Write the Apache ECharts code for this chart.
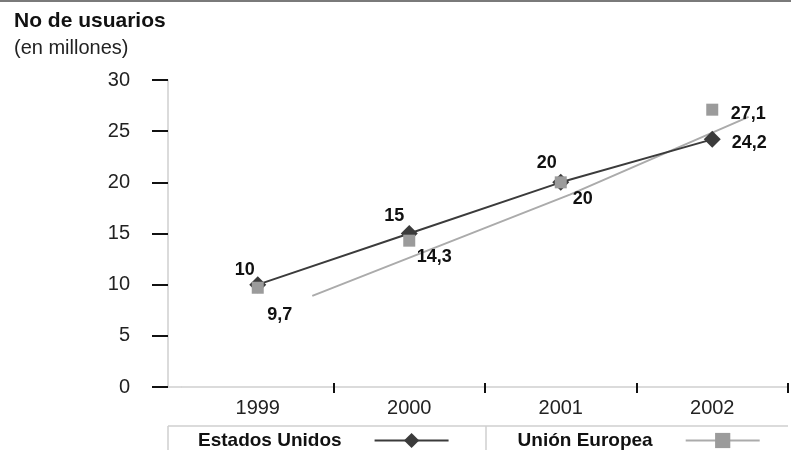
<!DOCTYPE html>
<html>
<head>
<meta charset="utf-8">
<script src="https://cdn.jsdelivr.net/npm/echarts@6/dist/echarts.min.js"></script>
<style>
  html, body { margin: 0; padding: 0; background: #fff; }
  #chart { width: 791px; height: 450px; }
</style>
</head>
<body>
<div id="chart"></div>
<script>
// Internet users, in millions
const years = ['1999', '2000', '2001', '2002'];
const usaValues = [10, 15, 20, 24.2];
const euValues = [9.7, 14.3, 20, 27.1];
const euLabels = ['9,7', '14,3', '20', '27,1'];
const usaLabels = ['10', '15', '20', '24,2'];
// Gray EU line, as [category position, value] pairs
const euLinePoints = [[0.36, 8.9], [2.06, 18.8], [3.24, 26.4]];
const yTicks = [0, 5, 10, 15, 20, 25, 30];

// Label offsets from each marker (px)
const usaLabelOffsets = [[-13, -15], [-15, -17], [-14, -19], [37, 4]];
const euLabelOffsets = [[22, 27], [25, 16], [22, 17], [36, 4]];

const FONT = 'Liberation Sans, Arial, Helvetica, sans-serif';
const DARK = '#3b3b3b';
const GRAY = '#9b9b9b';
const LINE_GRAY = '#ababab';

const chart = echarts.init(document.getElementById('chart'), null, { renderer: 'canvas' });

function labelled(values, texts, offsets) {
  return values.map((v, i) => ({
    value: v,
    label: { offset: offsets[i], formatter: texts[i] }
  }));
}

const dataLabel = {
  show: true,
  position: 'inside',
  color: '#111',
  fontFamily: FONT,
  fontSize: 18,
  fontWeight: 'bold',
  align: 'center',
  verticalAlign: 'middle'
};

chart.setOption({
  animation: false,
  textStyle: { fontFamily: FONT },
  title: {
    text: 'No de usuarios',
    subtext: '(en millones)',
    left: 14,
    top: 11,
    itemGap: 6,
    padding: 0,
    textStyle: { fontFamily: FONT, fontSize: 21, fontWeight: 'bold', color: '#111' },
    subtextStyle: { fontFamily: FONT, fontSize: 20, color: '#222' }
  },
  grid: { left: 182, right: 3, top: 80, bottom: 63 },
  xAxis: [
    {
      type: 'category',
      data: years,
      boundaryGap: true,
      axisLine: { onZero: false, lineStyle: { color: '#cfcfcf', width: 1.5 } },
      axisTick: { show: true, length: 6, interval: (i) => i > 0, lineStyle: { color: '#111', width: 2 } },
      axisLabel: { color: '#222', fontSize: 20, fontFamily: FONT, margin: 11 }
    },
    {
      type: 'value',
      min: -0.5,
      max: 3.5,
      show: false
    },
    {
      type: 'category',
      data: years,
      boundaryGap: true,
      position: 'bottom',
      axisLine: { show: false, onZero: false },
      axisTick: { show: true, inside: true, length: 4, interval: (i) => i > 0, lineStyle: { color: '#111', width: 2 } },
      axisLabel: { show: false }
    }
  ],
  yAxis: {
    type: 'value',
    min: yTicks[0],
    max: yTicks[yTicks.length - 1],
    interval: 5,
    offset: 14,
    position: 'left',
    splitLine: { show: false },
    axisLine: { show: true, onZero: false, lineStyle: { color: '#cfcfcf', width: 1.5 } },
    axisTick: { show: true, length: 16, lineStyle: { color: '#111', width: 2 } },
    axisLabel: { color: '#222', fontSize: 20, fontFamily: FONT, margin: 38 }
  },
  legend: {
    left: 198,
    top: 431,
    align: 'right',
    itemWidth: 74,
    itemHeight: 19,
    itemGap: 68,
    padding: 0,
    selectedMode: false,
    textStyle: { fontFamily: FONT, fontSize: 19, fontWeight: 'bold', color: '#111', padding: [0, 28, 0, 0] },
    data: [
      { name: 'Estados Unidos' },
      { name: 'Unión Europea', lineStyle: { color: LINE_GRAY, width: 2, opacity: 1 } }
    ]
  },
  series: [
    {
      name: 'tendencia UE',
      type: 'line',
      xAxisIndex: 1,
      data: euLinePoints,
      symbol: 'none',
      silent: true,
      lineStyle: { color: LINE_GRAY, width: 2 },
      z: 1
    },
    {
      name: 'Estados Unidos',
      type: 'line',
      data: labelled(usaValues, usaLabels, usaLabelOffsets),
      symbol: 'diamond',
      symbolSize: [17, 17],
      itemStyle: { color: DARK },
      lineStyle: { color: DARK, width: 2 },
      label: dataLabel,
      z: 2
    },
    {
      name: 'Unión Europea',
      type: 'line',
      data: labelled(euValues, euLabels, euLabelOffsets),
      symbol: 'rect',
      symbolSize: 12,
      itemStyle: { color: GRAY },
      lineStyle: { color: LINE_GRAY, width: 2, opacity: 0 },
      label: dataLabel,
      z: 3
    }
  ],
  graphic: [
    // top rule
    { type: 'line', shape: { x1: 0, y1: 1, x2: 791, y2: 1 }, style: { stroke: '#7a7a7a', lineWidth: 2 }, silent: true },
    // x axis line extension to the left of the y axis
    { type: 'line', shape: { x1: 152, y1: 387, x2: 182, y2: 387 }, style: { stroke: '#cfcfcf', lineWidth: 1.5 }, silent: true },
    // legend box
    { type: 'line', shape: { x1: 168, y1: 426, x2: 788, y2: 426 }, style: { stroke: '#cfcfcf', lineWidth: 1.5 }, silent: true },
    { type: 'line', shape: { x1: 168, y1: 426, x2: 168, y2: 450 }, style: { stroke: '#cfcfcf', lineWidth: 1.5 }, silent: true },
    { type: 'line', shape: { x1: 486, y1: 426, x2: 486, y2: 450 }, style: { stroke: '#cfcfcf', lineWidth: 1.5 }, silent: true }
  ]
});
</script>
</body>
</html>
